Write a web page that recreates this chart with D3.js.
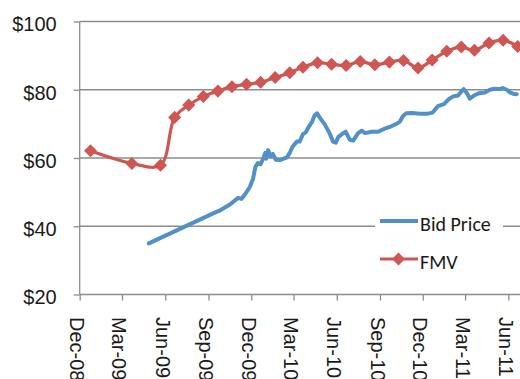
<!DOCTYPE html>
<html lang="en">
<head>
    <meta charset="UTF-8">
    <title>Bid Price vs FMV</title>
    <script src="https://d3js.org/d3.v7.min.js"></script>
    <style>
        body {
            margin: 0;
            background: #ffffff;
            font-family: Calibri, Carlito, Lato, sans-serif;
        }
        .axis text {
            font-size: 20px;
            fill: #1a1a1a;
        }
    </style>
</head>
<body>
    <svg id="chart" width="520" height="379"></svg>

    <script>
        // Tick labels
        const yTicks = [20, 40, 60, 80, 100];
        const xTickDates = ["2008-12-01", "2009-03-01", "2009-06-01", "2009-09-01", "2009-12-01",
            "2010-03-01", "2010-06-01", "2010-09-01", "2010-12-01", "2011-03-01", "2011-06-01"];

        // FMV (monthly marks)
        const fmvDates = ["2008-12-24", "2009-03-22", "2009-05-22", "2009-06-21", "2009-07-21",
            "2009-08-21", "2009-09-21", "2009-10-21", "2009-11-21", "2009-12-21", "2010-01-21",
            "2010-02-21", "2010-03-21", "2010-04-21", "2010-05-21", "2010-06-21", "2010-07-21",
            "2010-08-21", "2010-09-21", "2010-10-21", "2010-11-21", "2010-12-21", "2011-01-21",
            "2011-02-21", "2011-03-21", "2011-04-21", "2011-05-21", "2011-06-21"];
        const fmvValues = [62.1, 58.4, 57.9, 71.9, 75.5, 78.0, 79.6, 80.9, 81.6, 82.2, 83.6,
            85.0, 86.6, 87.9, 87.5, 87.1, 88.3, 87.3, 88.1, 88.6, 86.4, 88.7, 91.3,
            92.5, 91.6, 93.7, 94.5, 92.7];

        // Bid price (daily trace)
        const bidDates = ["2009-04-27", "2009-09-18", "2009-09-25", "2009-10-16", "2009-11-03",
            "2009-11-10", "2009-11-19", "2009-11-28", "2009-12-05", "2009-12-10", "2009-12-15",
            "2009-12-21", "2009-12-27", "2009-12-31", "2010-01-02", "2010-01-06", "2010-01-11",
            "2010-01-16", "2010-01-22", "2010-01-31", "2010-02-08", "2010-02-15", "2010-02-21",
            "2010-02-27", "2010-03-08", "2010-03-14", "2010-03-21", "2010-03-27", "2010-04-03",
            "2010-04-09", "2010-04-15", "2010-04-20", "2010-04-27", "2010-05-07", "2010-05-17",
            "2010-05-24", "2010-05-30", "2010-06-04", "2010-06-14", "2010-06-20", "2010-06-29",
            "2010-07-06", "2010-07-16", "2010-07-24", "2010-07-31", "2010-08-14", "2010-08-28",
            "2010-09-11", "2010-09-25", "2010-10-06", "2010-10-13", "2010-10-20", "2010-10-27",
            "2010-11-08", "2010-11-25", "2010-12-12", "2010-12-22", "2011-01-02", "2011-01-15",
            "2011-01-25", "2011-02-03", "2011-02-14", "2011-02-22", "2011-02-26", "2011-03-05",
            "2011-03-11", "2011-03-20", "2011-03-31", "2011-04-12", "2011-04-23", "2011-05-03",
            "2011-05-14", "2011-05-20", "2011-05-29", "2011-06-04", "2011-06-11", "2011-06-19"];
        const bidValues = [35.0, 44.2, 44.6, 46.3, 48.3,
            48.0, 49.6, 51.5, 54.0, 57.5, 58.5,
            58.2, 60.0, 61.5, 59.8, 62.3, 60.5,
            61.2, 59.5, 59.4, 59.8, 60.2, 61.5,
            63.3, 64.8, 64.8, 67.0, 67.5, 69.3,
            70.5, 72.5, 73.1, 71.6, 69.7, 67.2,
            64.8, 64.5, 66.1, 67.2, 67.7, 65.3,
            65.1, 67.2, 68.0, 67.3, 67.7, 67.7,
            68.6, 69.3, 70.0, 70.6, 72.3, 73.1,
            73.2, 73.0, 73.0, 73.3, 75.2, 75.8,
            77.2, 78.0, 78.3, 79.6, 80.2, 79.0,
            77.4, 78.3, 79.0, 79.2, 80.0, 80.3,
            80.2, 80.5, 80.0, 79.3, 78.8, 78.7];

        const parse = d3.timeParse("%Y-%m-%d");
        const fmvData = fmvDates.map((d, i) => ({ date: parse(d), value: fmvValues[i] }));
        const bidData = bidDates.map((d, i) => ({ date: parse(d), value: bidValues[i] }));

        const blue = "#5290c8";
        const red = "#cf5653";
        const gray = "#8c8c8c";

        const svg = d3.select("#chart");
        const plotLeft = 79.7, plotRight = 535, plotTop = 21.5, plotBottom = 294.5;

        const x = d3.scaleTime()
            .domain([parse("2008-12-01"), parse("2011-06-01")])
            .range([plotLeft, 508.3]);

        const y = d3.scaleLinear()
            .domain([20, 100])
            .range([plotBottom, plotTop]);

        // gridlines
        svg.append("g")
            .selectAll("line")
            .data(yTicks.slice(1))
            .enter().append("line")
            .attr("x1", plotLeft)
            .attr("x2", plotRight)
            .attr("y1", d => y(d))
            .attr("y2", d => y(d))
            .attr("stroke", gray)
            .attr("stroke-width", 1.3);

        // y axis
        const yAxis = svg.append("g")
            .attr("class", "axis")
            .attr("transform", `translate(${plotLeft},0)`)
            .call(d3.axisLeft(y)
                .tickValues(yTicks)
                .tickSize(6)
                .tickPadding(17)
                .tickFormat(d => "$" + d));
        yAxis.select(".domain").remove();
        yAxis.selectAll(".tick line").attr("stroke", gray).attr("stroke-width", 1.3);
        yAxis.selectAll(".tick text").attr("y", 3);

        svg.append("line")
            .attr("x1", plotLeft).attr("x2", plotLeft)
            .attr("y1", plotTop).attr("y2", plotBottom)
            .attr("stroke", gray)
            .attr("stroke-width", 1.3);

        // x axis
        const xAxis = svg.append("g")
            .attr("class", "axis")
            .attr("transform", `translate(0,${plotBottom})`)
            .call(d3.axisBottom(x)
                .tickValues(xTickDates.map(parse))
                .tickSize(6)
                .tickFormat(d3.timeFormat("%b-%y")));
        xAxis.select(".domain").remove();
        xAxis.selectAll(".tick line").attr("stroke", gray).attr("stroke-width", 1.3);
        xAxis.selectAll(".tick text")
            .attr("transform", "rotate(90)")
            .attr("x", 22.5)
            .attr("y", 10)
            .attr("dy", 0)
            .attr("text-anchor", "start");

        svg.append("line")
            .attr("x1", plotLeft).attr("x2", plotRight)
            .attr("y1", plotBottom).attr("y2", plotBottom)
            .attr("stroke", gray)
            .attr("stroke-width", 1.3);

        // series
        const bidLine = d3.line()
            .x(d => x(d.date))
            .y(d => y(d.value));

        const fmvLine = d3.line()
            .curve(d3.curveCatmullRom)
            .x(d => x(d.date))
            .y(d => y(d.value));

        svg.append("path")
            .datum(bidData)
            .attr("d", bidLine)
            .attr("fill", "none")
            .attr("stroke", blue)
            .attr("stroke-width", 4)
            .attr("stroke-linejoin", "round")
            .attr("stroke-linecap", "round");

        svg.append("path")
            .datum(fmvData)
            .attr("d", fmvLine)
            .attr("fill", "none")
            .attr("stroke", red)
            .attr("stroke-width", 3.2)
            .attr("stroke-linejoin", "round");

        const diamond = d3.symbol().type(d3.symbolSquare).size(85);

        svg.append("g")
            .selectAll("path")
            .data(fmvData)
            .enter().append("path")
            .attr("d", diamond)
            .attr("transform", d => `translate(${x(d.date)},${y(d.value)}) rotate(45)`)
            .attr("fill", red);

        // legend
        const legend = svg.append("g");
        legend.append("rect")
            .attr("x", 375).attr("y", 200)
            .attr("width", 128).attr("height", 82)
            .attr("fill", "#ffffff");

        legend.append("line")
            .attr("x1", 380).attr("x2", 418)
            .attr("y1", 221).attr("y2", 221)
            .attr("stroke", blue)
            .attr("stroke-width", 4);
        legend.append("text")
            .attr("x", 420).attr("y", 231)
            .attr("font-size", 20)
            .attr("fill", "#1a1a1a")
            .text("Bid Price");

        legend.append("line")
            .attr("x1", 380).attr("x2", 418)
            .attr("y1", 259).attr("y2", 259)
            .attr("stroke", red)
            .attr("stroke-width", 3.2);
        legend.append("path")
            .attr("d", diamond)
            .attr("transform", "translate(398.5,259) rotate(45)")
            .attr("fill", red);
        legend.append("text")
            .attr("x", 420).attr("y", 269)
            .attr("font-size", 20)
            .attr("fill", "#1a1a1a")
            .text("FMV");
    </script>
</body>
</html>
